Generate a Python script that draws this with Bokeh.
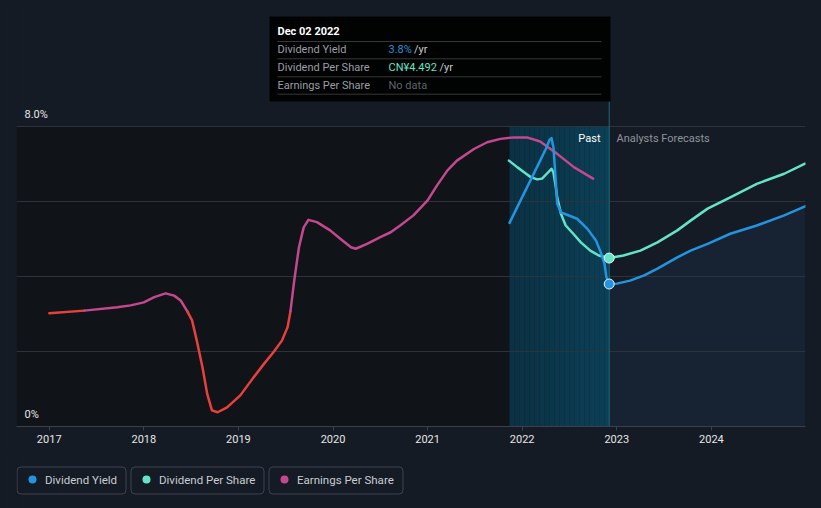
import numpy as np
from bokeh.plotting import figure
from bokeh.layouts import column
from bokeh.models import (FixedTicker, Grid, BoxAnnotation, Range1d,
                          GlobalInlineStyleSheet)
from bokeh.core.properties import value
from bokeh.embed import file_html
from bokeh.resources import INLINE

# ---------------- data ----------------
x_tick_years = [2017, 2018, 2019, 2020, 2021, 2022, 2023, 2024]
y_grid_values = [0, 2, 4, 6, 8]
y_tick_labels = {8: "8.0%", 0: "0%"}

eps_years = [2017.0, 2017.37, 2017.72, 2017.86, 2018.0, 2018.11, 2018.23, 2018.32,
             2018.39, 2018.46, 2018.51, 2018.56, 2018.62, 2018.67, 2018.72,
             2018.78, 2018.88, 2019.02, 2019.16, 2019.27, 2019.37, 2019.46,
             2019.52, 2019.55, 2019.59, 2019.64, 2019.69, 2019.74, 2019.83,
             2019.97, 2020.08, 2020.19, 2020.24, 2020.36, 2020.50, 2020.61,
             2020.71, 2020.85, 2021.0, 2021.10, 2021.21, 2021.31, 2021.49,
             2021.63, 2021.77, 2021.91, 2022.05, 2022.19, 2022.37, 2022.55,
             2022.75]
eps_values = [3.02, 3.09, 3.18, 3.23, 3.31, 3.45, 3.55, 3.49,
              3.36, 3.07, 2.83, 2.29, 1.58, 0.87, 0.43,
              0.38, 0.51, 0.83, 1.31, 1.67, 1.98, 2.29,
              2.65, 3.07, 3.89, 4.78, 5.31, 5.51, 5.45,
              5.23, 5.00, 4.78, 4.74, 4.87, 5.05, 5.18,
              5.36, 5.63, 6.03, 6.43, 6.83, 7.09, 7.40,
              7.58, 7.67, 7.71, 7.71, 7.60, 7.27, 6.91,
              6.61]
eps_red_spans = [(2017.0, 2017.37), (2018.46, 2019.55)]

dy_years = [2021.866, 2022.19, 2022.25, 2022.29, 2022.31, 2022.33, 2022.35,
            2022.37, 2022.41, 2022.48, 2022.58, 2022.69, 2022.78, 2022.83,
            2022.87, 2022.89, 2022.92, 2023.0, 2023.14, 2023.29, 2023.43,
            2023.64, 2023.78, 2023.96, 2024.20, 2024.48, 2024.77, 2024.99]
dy_values = [5.43, 7.09, 7.40, 7.65, 7.69, 7.45, 6.74,
             5.94, 5.71, 5.64, 5.54, 5.27, 4.96, 4.65,
             4.34, 3.98, 3.8, 3.81, 3.89, 4.03, 4.21,
             4.51, 4.69, 4.87, 5.14, 5.36, 5.63, 5.87]

dps_years = [2021.86, 2021.95, 2022.02, 2022.09, 2022.16, 2022.21, 2022.26,
             2022.31, 2022.33, 2022.35, 2022.37, 2022.41, 2022.46, 2022.54,
             2022.62, 2022.72, 2022.81, 2022.92, 2023.07, 2023.25, 2023.43,
             2023.64, 2023.78, 2023.96, 2024.20, 2024.48, 2024.77, 2024.99]
dps_values = [7.09, 6.91, 6.78, 6.65, 6.59, 6.61, 6.74,
              6.87, 6.78, 6.47, 6.11, 5.67, 5.36, 5.14,
              4.91, 4.69, 4.56, 4.492, 4.56, 4.69, 4.91,
              5.23, 5.49, 5.81, 6.11, 6.47, 6.74, 7.01]

hover_date = 2022.92
hover_label = "Dec 02 2022"
tooltip_rows = ["Dividend Yield", "Dividend Per Share", "Earnings Per Share"]
tooltip_values = ["3.8%", "CN¥4.492", "No data"]
series_names = ["Dividend Yield", "Dividend Per Share", "Earnings Per Share"]

# ---------------- style ----------------
BG = "#151b24"
PAST_BG = "#101419"
GRID = "#2d333d"
AXIS = "#3b414c"
BLUE = "#2394df"
TEAL = "#64e3c8"
MAGENTA = "#c4488e"
RED = "#e8413c"
FONT = "Roboto"

W, H_MAIN, H_LEG = 821, 455, 53
FRAME_L, FRAME_R, FRAME_B = 16, 805, 426
X_START, X_END = 2016.654, 2024.995
PX_PER_UNIT_Y = 37.5
Y_END = FRAME_B / PX_PER_UNIT_Y


def px_x(px):
    return X_START + (px - FRAME_L) * (X_END - X_START) / (FRAME_R - FRAME_L)


def px_y(py):
    return (FRAME_B - py) / PX_PER_UNIT_Y


p = figure(width=W, height=H_MAIN, output_backend="svg", toolbar_location=None,
           x_range=Range1d(X_START, X_END), y_range=Range1d(0, Y_END),
           y_axis_location=None, min_border_left=FRAME_L, min_border_right=W - FRAME_R,
           min_border_top=0, min_border_bottom=H_MAIN - FRAME_B)
p.background_fill_color = BG
p.border_fill_color = BG
p.outline_line_color = None
for g in list(p.center):
    if isinstance(g, Grid):
        g.visible = False

# past region
p.quad(left=[X_START], right=[hover_date], bottom=[0], top=[max(y_grid_values)],
       fill_color=PAST_BG, line_color=None, level="image")
# teal band (gradient approximated with strips)
n = 20
edges = np.linspace(dy_years[0], hover_date, n + 1)
c0 = np.array([0x0c, 0x31, 0x43])
c1 = np.array([0x0b, 0x40, 0x56])
cols = ["#%02x%02x%02x" % tuple((c0 + (c1 - c0) * t).astype(int)) for t in np.linspace(0, 1, n)]
p.quad(left=edges[:-1], right=edges[1:] + 0.002, bottom=0, top=max(y_grid_values),
       fill_color=cols, line_color=None, level="image")
# forecast fill under dividend yield
hi = dy_years.index(hover_date)
p.varea(x=dy_years[hi:], y1=0, y2=dy_values[hi:], fill_color="#172333", level="image")

grid = Grid(dimension=1, ticker=FixedTicker(ticks=y_grid_values), grid_line_color=GRID,
            grid_line_width=1)
p.add_layout(grid)

# hover vertical line
p.segment(x0=[hover_date], x1=[hover_date], y0=[px_y(101)], y1=[0],
          line_color="#1b6a80", line_width=1)


# EPS line with red/magenta parts
def is_red(xm):
    return any(a <= xm <= b for a, b in eps_red_spans)


runs, run_cols = [], []
cur_x, cur_y, cur_c = [eps_years[0]], [eps_values[0]], None
for i in range(len(eps_years) - 1):
    c = RED if is_red((eps_years[i] + eps_years[i + 1]) / 2) else MAGENTA
    if cur_c is None or c == cur_c:
        cur_c = c
        cur_x.append(eps_years[i + 1]); cur_y.append(eps_values[i + 1])
    else:
        runs.append((cur_x, cur_y)); run_cols.append(cur_c)
        cur_x, cur_y, cur_c = [eps_years[i], eps_years[i + 1]], [eps_values[i], eps_values[i + 1]], c
runs.append((cur_x, cur_y)); run_cols.append(cur_c)
p.multi_line(xs=[r[0] for r in runs], ys=[r[1] for r in runs], line_color=run_cols,
             line_width=2.5, line_cap="round", line_join="round")

p.line(dps_years, dps_values, line_color=TEAL, line_width=2.5, line_cap="round", line_join="round")
p.line(dy_years, dy_values, line_color=BLUE, line_width=2.5, line_cap="round", line_join="round")

di = dps_years.index(hover_date)
p.scatter([hover_date], [dps_values[di]], size=10, fill_color=TEAL, line_color="#e8f4f4", line_width=1)
p.scatter([hover_date], [dy_values[hi]], size=10, fill_color=BLUE, line_color="#e8f4f4", line_width=1)

# y labels
p.text(x=[px_x(24)] * 2, y=[px_y(114), px_y(414)], text=[y_tick_labels[8], y_tick_labels[0]],
       text_font=value(FONT), text_font_size="11px", text_color="#e6e6e6",
       text_baseline="middle", text_align="left")

# Past / forecasts labels
p.text(x=[px_x(600)], y=[px_y(138)], text=["Past"], text_font=value(FONT), text_font_size="11px",
       text_color="#ffffff", text_baseline="middle", text_align="right")
p.text(x=[px_x(616)], y=[px_y(138)], text=["Analysts Forecasts"], text_font=value(FONT),
       text_font_size="11px", text_color="#8e949c", text_baseline="middle", text_align="left")

# tooltip
p.quad(left=[px_x(269)], right=[px_x(610)], top=[px_y(16)], bottom=[px_y(101)],
       fill_color="#000000", fill_alpha=0.92, line_color=None)
sep_y = [px_y(v) for v in (41, 58.3, 76.3, 93.7)]
p.segment(x0=[px_x(277)] * 4, x1=[px_x(601)] * 4, y0=sep_y, y1=sep_y,
          line_color="#383838", line_width=1)
p.text(x=[px_x(277)], y=[px_y(31)], text=[hover_label], text_font=value(FONT),
       text_font_size="11px", text_font_style="bold", text_color="#ffffff", text_baseline="middle")
row_y = [px_y(49), px_y(67), px_y(84.5)]
p.text(x=[px_x(277)] * 3, y=row_y, text=tooltip_rows, text_font=value(FONT),
       text_font_size="11px", text_color="#9a9ea5", text_baseline="middle")
p.text(x=[px_x(388)] * 3, y=row_y, text=tooltip_values, text_font=value(FONT),
       text_font_size="11px", text_color=[BLUE, TEAL, "#5f646b"], text_baseline="middle")
p.text(x=[px_x(413.5), px_x(439)], y=row_y[:2], text=["/yr", "/yr"], text_font=value(FONT),
       text_font_size="11px", text_color="#c8ccd2", text_baseline="middle")

# x axis
ax = p.xaxis[0]
ax.ticker = FixedTicker(ticks=x_tick_years)
ax.major_label_overrides = {y: str(y) for y in x_tick_years}
ax.axis_line_color = AXIS
ax.major_tick_line_color = AXIS
ax.major_tick_in = 0
ax.major_tick_out = 4
ax.minor_tick_line_color = None
ax.major_label_text_color = "#e6e6e6"
ax.major_label_text_font = FONT
ax.major_label_text_font_size = "11px"
ax.major_label_standoff = 4

# ---------------- legend figure (frame aligned with the main frame) ----------------
lg = figure(width=W, height=H_LEG, output_backend="svg", toolbar_location=None,
            x_range=Range1d(FRAME_L, FRAME_R), y_range=Range1d(H_LEG, 0),
            x_axis_location=None, y_axis_location=None,
            min_border_left=FRAME_L, min_border_right=W - FRAME_R,
            min_border_top=0, min_border_bottom=0)
lg.background_fill_color = BG
lg.border_fill_color = BG
lg.outline_line_color = None
for g in list(lg.center):
    if isinstance(g, Grid):
        g.visible = False
box_l = [16.5, 130.5, 268.5]
box_r = [125.5, 263.5, 402.5]
colors = [BLUE, TEAL, MAGENTA]
for l, r in zip(box_l, box_r):
    lg.add_layout(BoxAnnotation(left=l, right=r, top=11.5, bottom=38.5, border_radius=4,
                                fill_color=None, fill_alpha=0, line_color="#3c4250",
                                line_alpha=1, line_width=1, level="underlay"))
lg.scatter([l + 15.5 for l in box_l], [24] * 3, size=8, fill_color=colors, line_color=None)
lg.text(x=[l + 28 for l in box_l], y=[24] * 3, text=series_names, text_font=value(FONT),
        text_font_size="11.5px", text_color="#c9cdd3", text_baseline="middle")

layout = column(p, lg, spacing=0)
layout.stylesheets = [GlobalInlineStyleSheet(
    css=f"html, body {{ margin: 0 !important; padding: 0; background: {BG}; overflow: hidden; }}")]

open("out.html", "w").write(file_html(layout, INLINE))
